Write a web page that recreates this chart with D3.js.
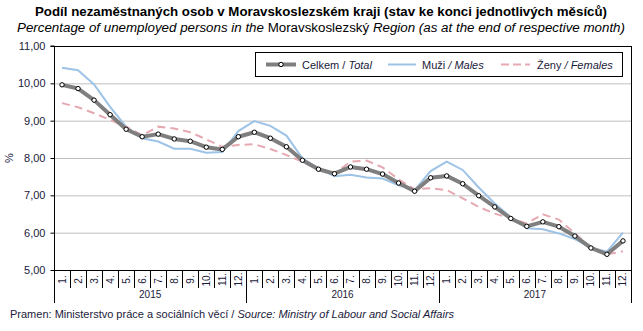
<!DOCTYPE html>
<html><head><meta charset="utf-8">
<script src="https://cdn.jsdelivr.net/npm/d3@7"></script>
<style>
body{margin:0;background:#fff;}
svg{display:block;font-family:"Liberation Sans",Arial,sans-serif;}
</style></head>
<body><svg id="c" width="643" height="331"></svg>
<script>
const months = ["1.","2.","3.","4.","5.","6.","7.","8.","9.","10.","11.","12."];
const years = ["2015","2016","2017"];
const yTicks = [5,6,7,8,9,10,11];
const total = [9.96,9.86,9.55,9.16,8.77,8.57,8.64,8.51,8.45,8.29,8.23,8.57,
               8.69,8.53,8.30,7.94,7.70,7.58,7.76,7.70,7.57,7.33,7.11,7.47,
               7.52,7.31,6.99,6.69,6.38,6.17,6.29,6.16,5.91,5.59,5.42,5.78];
const males = [10.42,10.35,9.97,9.37,8.84,8.53,8.44,8.25,8.25,8.14,8.16,8.72,
               8.99,8.86,8.60,7.99,7.72,7.51,7.55,7.48,7.45,7.27,7.14,7.65,
               7.90,7.68,7.21,6.78,6.41,6.12,6.09,5.98,5.83,5.60,5.49,6.00];
const females = [9.47,9.36,9.20,9.02,8.84,8.61,8.84,8.79,8.69,8.50,8.30,8.35,
               8.37,8.24,8.08,7.90,7.69,7.59,7.90,7.93,7.75,7.43,7.16,7.19,
               7.14,6.92,6.69,6.51,6.38,6.25,6.49,6.35,5.98,5.60,5.42,5.50];

const cats = [];
years.forEach(y => months.forEach(m => cats.push(y + "-" + m)));

const svg = d3.select("#c");
const L = 54, R = 631, T = 46, B = 270;
const x = d3.scaleBand().domain(cats).range([L, R]).padding(0);
const y = d3.scaleLinear().domain([5, 11]).range([B, T]);
const cx = i => x(cats[i]) + x.bandwidth() / 2;
const txtCol = "#1a1a3a";

// gridlines
svg.append("g").attr("transform", `translate(${L},0)`)
  .call(d3.axisLeft(y).tickValues(yTicks).tickSize(-(R - L)).tickFormat(""))
  .call(g => g.select(".domain").remove())
  .call(g => g.selectAll("line").attr("stroke", "#bfbfbf").attr("stroke-width", 1));

// plot border top & right
svg.append("line").attr("x1", L).attr("x2", R).attr("y1", T + 0.5).attr("y2", T + 0.5).attr("stroke", "#000");
svg.append("line").attr("x1", R + 0.5).attr("x2", R + 0.5).attr("y1", T).attr("y2", 303).attr("stroke", "#000");

// y axis
const ya = svg.append("g").attr("transform", `translate(${L + 0.5},0)`)
  .call(d3.axisLeft(y).tickValues(yTicks).tickSize(4).tickPadding(5)
    .tickFormat(d => d.toFixed(2).replace(".", ",")));
ya.select(".domain").attr("stroke", "#000").attr("d", `M-4,${T}H0V${B}`);
ya.selectAll("text").attr("font-size", 11).attr("fill", txtCol).attr("font-family", "Liberation Sans, Arial, sans-serif");
// extend left axis line down
svg.append("line").attr("x1", L + 0.5).attr("x2", L + 0.5).attr("y1", B).attr("y2", 303).attr("stroke", "#000");

// y label
svg.append("text").attr("transform", `translate(13,158) rotate(-90)`).attr("text-anchor", "middle")
  .attr("font-size", 11).attr("fill", txtCol).text("%");

// x axis
const xa = svg.append("g").attr("transform", `translate(0,${B + 0.5})`)
  .call(d3.axisBottom(x).tickSize(0).tickFormat(d => d.split("-")[1]));
xa.select(".domain").attr("stroke", "#000").attr("d", `M${L},0H${R + 1}`);
xa.selectAll(".tick text").attr("transform", "rotate(-90)").attr("text-anchor", "middle")
  .attr("x", -9).attr("y", 0).attr("dy", "0.35em").attr("font-size", 10).attr("fill", txtCol)
  .attr("font-family", "Liberation Sans, Arial, sans-serif");
// category separators
svg.append("g").selectAll("line").data(cats.slice(1)).join("line")
  .attr("x1", d => Math.round(x(d)) + 0.5).attr("x2", d => Math.round(x(d)) + 0.5)
  .attr("y1", B).attr("y2", (d, i) => ((i + 1) % 12 === 0) ? 303 : 288)
  .attr("stroke", "#000");
// year labels
svg.append("g").selectAll("text").data(years).join("text")
  .attr("x", (d, i) => (x(cats[i * 12]) + x(cats[i * 12 + 11]) + x.bandwidth()) / 2)
  .attr("y", 298).attr("text-anchor", "middle").attr("font-size", 10).attr("fill", txtCol).text(d => d);

// lines
const line = d3.line().x((d, i) => cx(i)).y(d => y(d));
svg.append("path").datum(males).attr("d", line).attr("fill", "none")
  .attr("stroke", "#9dc3e6").attr("stroke-width", 2);
svg.append("path").datum(females).attr("d", line).attr("fill", "none")
  .attr("stroke", "#e6a9b2").attr("stroke-width", 2).attr("stroke-dasharray", "8,5");
svg.append("path").datum(total).attr("d", line).attr("fill", "none")
  .attr("stroke", "#7f7f7f").attr("stroke-width", 4).attr("stroke-linejoin", "round");
svg.append("g").selectAll("circle").data(total).join("circle")
  .attr("cx", (d, i) => cx(i)).attr("cy", d => y(d)).attr("r", 2.2)
  .attr("fill", "#fff").attr("stroke", "#000").attr("stroke-width", 1);

// legend
const lg = svg.append("g");
lg.append("rect").attr("x", 255.5).attr("y", 52.5).attr("width", 367).attr("height", 24)
  .attr("fill", "#fff").attr("stroke", "#000");
const ly = 64.5;
lg.append("line").attr("x1", 266).attr("x2", 296).attr("y1", ly).attr("y2", ly).attr("stroke", "#7f7f7f").attr("stroke-width", 4);
lg.append("circle").attr("cx", 281).attr("cy", ly).attr("r", 2.2).attr("fill", "#fff").attr("stroke", "#000");
const t1 = lg.append("text").attr("x", 302).attr("y", ly + 4).attr("font-size", 11).attr("fill", txtCol);
t1.append("tspan").text("Celkem  / ");
t1.append("tspan").attr("font-style", "italic").text("Total");
lg.append("line").attr("x1", 388).attr("x2", 416).attr("y1", ly).attr("y2", ly).attr("stroke", "#9dc3e6").attr("stroke-width", 2);
const t2 = lg.append("text").attr("x", 422).attr("y", ly + 4).attr("font-size", 11).attr("fill", txtCol);
t2.append("tspan").text("Muži ");
t2.append("tspan").attr("font-style", "italic").text("/ Males");
lg.append("line").attr("x1", 501).attr("x2", 530).attr("y1", ly).attr("y2", ly).attr("stroke", "#e6a9b2").attr("stroke-width", 2).attr("stroke-dasharray", "8,4");
const t3 = lg.append("text").attr("x", 537).attr("y", ly + 4).attr("font-size", 11).attr("fill", txtCol);
t3.append("tspan").text("Ženy ");
t3.append("tspan").attr("font-style", "italic").text("/ Females");

// titles
svg.append("text").attr("x", 321).attr("y", 16).attr("text-anchor", "middle").attr("font-size", 13)
  .attr("font-weight", "bold").attr("fill", "#000")
  .attr("textLength", 572).attr("lengthAdjust", "spacingAndGlyphs")
  .text("Podíl nezaměstnaných osob v Moravskoslezském  kraji (stav ke konci jednotlivých měsíců)");
const st = svg.append("text").attr("x", 321).attr("y", 32).attr("text-anchor", "middle").attr("font-size", 12.5)
  .attr("fill", "#000").attr("textLength", 608).attr("lengthAdjust", "spacingAndGlyphs");
st.append("tspan").attr("font-style", "italic").text("Percentage of unemployed persons in the ");
st.append("tspan").text("Moravskoslezský ");
st.append("tspan").attr("font-style", "italic").text("Region (as at the end of respective month)");

// source
const src = svg.append("text").attr("x", 10).attr("y", 318).attr("font-size", 11).attr("fill", txtCol);
src.append("tspan").text("Pramen:  Ministerstvo práce a sociálních věcí / ");
src.append("tspan").attr("font-style", "italic").text("Source: Ministry of Labour and Social Affairs");
</script></body></html>
